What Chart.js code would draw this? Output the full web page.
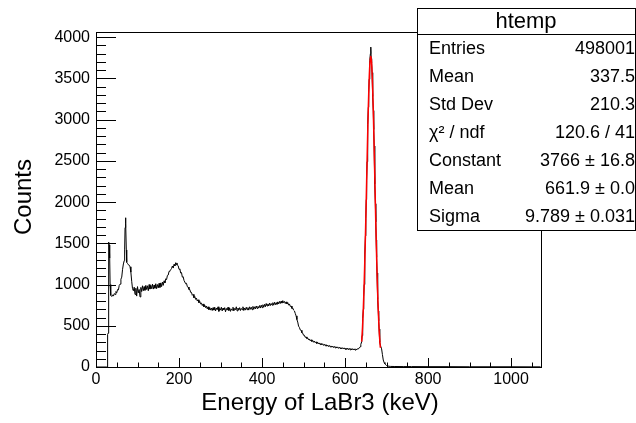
<!DOCTYPE html>
<html>
<head>
<meta charset="utf-8">
<script src="https://cdn.jsdelivr.net/npm/chart.js@4.4.0/dist/chart.umd.min.js"></script>
<style>
  html, body { margin: 0; padding: 0; background: #fff; }
  canvas { display: block; }
</style>
</head>
<body>
<canvas id="spectrum" width="636" height="423"></canvas>
<script>
// histogram (bin centre in keV, counts)
const energyKeV = [
  0, 26, 27, 28, 29, 30, 31, 32, 33, 34,
  35, 36, 38, 40, 42, 44, 46, 48, 50, 52,
  54, 56, 58, 60, 62, 64, 66, 68, 69, 70,
  71, 72, 73, 74, 76, 78, 80, 82, 84, 86,
  88, 90, 92, 94, 96, 98, 100, 102, 104, 106,
  108, 110, 112, 114, 116, 118, 120, 122, 124, 126,
  128, 130, 132, 134, 136, 138, 140, 142, 144, 146,
  148, 150, 152, 154, 156, 158, 160, 162, 164, 166,
  168, 170, 172, 174, 176, 178, 180, 182, 184, 186,
  188, 190, 192, 194, 195, 196, 198, 200, 202, 204,
  206, 208, 210, 212, 214, 216, 218, 220, 222, 224,
  226, 228, 230, 232, 234, 236, 238, 240, 242, 244,
  246, 248, 250, 252, 254, 256, 258, 260, 262, 264,
  266, 268, 270, 272, 274, 276, 278, 280, 282, 284,
  286, 288, 290, 292, 294, 296, 298, 300, 302, 304,
  306, 308, 310, 312, 314, 316, 318, 320, 322, 324,
  326, 328, 330, 332, 334, 336, 338, 340, 342, 344,
  346, 348, 350, 352, 354, 356, 358, 360, 362, 364,
  366, 368, 370, 372, 374, 376, 378, 380, 382, 384,
  386, 388, 390, 392, 394, 396, 398, 400, 402, 404,
  406, 408, 410, 412, 414, 416, 418, 420, 422, 424,
  426, 428, 430, 432, 434, 436, 438, 440, 442, 444,
  446, 448, 450, 452, 454, 456, 458, 460, 462, 464,
  466, 468, 470, 472, 474, 476, 478, 480, 482, 484,
  486, 488, 490, 492, 494, 496, 498, 500, 502, 504,
  506, 508, 510, 512, 514, 516, 518, 520, 522, 524,
  526, 528, 530, 532, 534, 536, 538, 540, 542, 544,
  546, 548, 550, 552, 554, 556, 558, 560, 562, 564,
  566, 568, 570, 572, 574, 576, 578, 580, 582, 584,
  586, 588, 590, 592, 594, 596, 598, 600, 602, 604,
  606, 608, 610, 612, 614, 616, 618, 620, 622, 624,
  626, 628, 630, 632, 634, 636, 638, 640, 641, 642,
  643, 644, 645, 646, 647, 648, 649, 650, 651, 652,
  653, 654, 655, 656, 657, 658, 659, 660, 661, 662,
  663, 664, 665, 666, 667, 668, 669, 670, 671, 672,
  673, 674, 675, 676, 677, 678, 679, 680, 681, 682,
  683, 684, 686, 688, 690, 692, 694, 696, 698, 700,
  703, 706, 710, 720, 740, 760, 800, 850, 900, 950,
  1000, 1050, 1071
];
const counts = [
  0, 0, 0, 395, 410, 1490, 1515, 1480, 1320, 1000,
  890, 870, 855, 875, 860, 890, 880, 915, 900, 940,
  935, 990, 1005, 1065, 1090, 1185, 1250, 1290, 1420, 1690,
  1810, 1740, 1420, 1270, 1255, 1240, 1235, 1215, 1150, 1040,
  950, 925, 968, 880, 955, 860, 975, 900, 940, 850,
  965, 915, 985, 925, 975, 930, 990, 940, 985, 925,
  1000, 945, 990, 950, 1005, 945, 995, 955, 1010, 950,
  1000, 960, 1015, 965, 1020, 975, 1030, 990, 1045, 1020,
  1070, 1060, 1110, 1115, 1160, 1165, 1180, 1195, 1225, 1200,
  1245, 1225, 1265, 1240, 1262, 1235, 1228, 1185, 1190, 1140,
  1145, 1090, 1095, 1050, 1050, 1010, 1015, 975, 970, 940,
  940, 905, 905, 870, 880, 840, 855, 820, 835, 800,
  815, 780, 795, 765, 775, 745, 765, 730, 750, 720,
  740, 705, 730, 695, 720, 690, 715, 685, 720, 690,
  725, 680, 715, 695, 730, 675, 710, 690, 725, 680,
  715, 695, 720, 670, 710, 690, 725, 685, 715, 675,
  705, 690, 725, 680, 710, 695, 730, 680, 715, 690,
  720, 685, 710, 695, 730, 685, 715, 690, 725, 695,
  720, 690, 730, 700, 725, 695, 735, 700, 730, 705,
  740, 710, 735, 715, 745, 715, 750, 720, 755, 725,
  760, 730, 770, 740, 765, 740, 775, 745, 770, 750,
  780, 750, 785, 755, 780, 760, 790, 765, 795, 770,
  800, 775, 805, 780, 795, 770, 790, 765, 780, 750,
  765, 735, 740, 710, 715, 690, 680, 650, 620, 575,
  545, 495, 480, 450, 445, 415, 410, 385, 385, 360,
  365, 345, 352, 330, 340, 318, 330, 310, 322, 300,
  315, 295, 305, 285, 300, 280, 292, 272, 288, 268,
  282, 262, 276, 258, 272, 252, 266, 248, 262, 244,
  256, 240, 254, 236, 250, 232, 246, 230, 244, 226,
  240, 224, 236, 220, 234, 218, 232, 215, 230, 212,
  228, 210, 226, 208, 224, 207, 222, 206, 220, 205,
  220, 207, 222, 218, 232, 245, 275, 305, 380, 470,
  590, 700, 850, 1000, 1190, 1370, 1590, 1800, 2030, 2260,
  2490, 2720, 2940, 3150, 3320, 3490, 3610, 3720, 3800, 3880,
  3740, 3690, 3570, 3440, 3280, 3110, 2880, 2680, 2450, 2220,
  1980, 1760, 1540, 1330, 1140, 970, 820, 680, 560, 460,
  370, 300, 250, 220, 150, 85, 55, 38, 26, 18,
  12, 9, 7, 6, 5, 5, 4, 4, 3, 3,
  3, 2, 2
];

// gaussian fit curve
const fitEnergy = [640, 642, 644, 646, 648, 650, 652, 654, 656, 658, 660, 662, 664, 666, 668, 670, 672, 674, 676, 678, 680, 682, 684, 685];
const fitCounts = [308, 477, 708, 1007, 1374, 1799, 2258, 2719, 3140, 3479, 3696, 3766, 3680, 3450, 3101, 2674, 2212, 1754, 1335, 974, 682, 458, 294, 233];

const xTickValues = [0, 200, 400, 600, 800, 1000];
const yTickValues = [0, 500, 1000, 1500, 2000, 2500, 3000, 3500, 4000];

const statsTitle = "htemp";
const statLabels = ["Entries", "Mean", "Std Dev", "χ² / ndf", "Constant", "Mean", "Sigma"];
const statValues = ["498001", "337.5", "210.3", "120.6 / 41", "3766 ± 16.8", "661.9 ± 0.0", "9.789 ± 0.031"];

const FONT = "'Liberation Sans', Arial, Helvetica, sans-serif";

// ROOT style frame: inward ticks, axis titles and the stats box
const rootFrame = {
  id: "rootFrame",
  afterDatasetsDraw(chart) {
    const { ctx, chartArea: a, scales } = chart;
    const x = scales.x;
    const y = scales.y;
    ctx.save();
    ctx.strokeStyle = "#000";
    ctx.lineWidth = 1;

    ctx.strokeRect(a.left + 0.5, a.top + 0.5, a.right - a.left, a.bottom - a.top);

    ctx.beginPath();
    for (let v = 0; v <= y.max; v += 100) {
      const py = Math.round(y.getPixelForValue(v)) + 0.5;
      const len = v % 500 === 0 ? 20 : 10;
      ctx.moveTo(a.left, py);
      ctx.lineTo(a.left + len, py);
    }
    for (let v = 0; v <= x.max; v += 50) {
      const px = Math.round(x.getPixelForValue(v)) + 0.5;
      const len = v % 200 === 0 ? 9 : 4.5;
      ctx.moveTo(px, a.bottom);
      ctx.lineTo(px, a.bottom - len);
    }
    ctx.stroke();

    // axis titles
    ctx.fillStyle = "#000";
    ctx.font = "24px " + FONT;
    ctx.textAlign = "center";
    ctx.textBaseline = "alphabetic";
    ctx.fillText("Energy of LaBr3 (keV)", 320, 410);
    ctx.save();
    ctx.translate(31, 197);
    ctx.rotate(-Math.PI / 2);
    ctx.fillText("Counts", 0, 0);
    ctx.restore();

    // stats box
    const bx = 417, by = 8, bw = 218, titleH = 26, rowH = 28;
    const bh = titleH + rowH * statLabels.length;
    ctx.fillStyle = "#fff";
    ctx.fillRect(bx, by, bw, bh);
    ctx.strokeRect(bx + 0.5, by + 0.5, bw, bh);
    ctx.beginPath();
    ctx.moveTo(bx, by + titleH + 0.5);
    ctx.lineTo(bx + bw, by + titleH + 0.5);
    ctx.stroke();

    ctx.fillStyle = "#000";
    ctx.textBaseline = "middle";
    ctx.textAlign = "center";
    ctx.font = "22px " + FONT;
    ctx.fillText(statsTitle, bx + bw / 2, by + titleH / 2 + 1);
    ctx.font = "18px " + FONT;
    statLabels.forEach((label, i) => {
      const cy = by + titleH + rowH * i + rowH / 2 + 1;
      ctx.textAlign = "left";
      ctx.fillText(label, 429, cy);
      ctx.textAlign = "right";
      ctx.fillText(statValues[i], 635, cy);
    });
    ctx.restore();
  }
};

new Chart(document.getElementById("spectrum").getContext("2d"), {
  type: "line",
  data: {
    datasets: [
      {
        label: "fit",
        data: fitEnergy.map((e, i) => ({ x: e, y: fitCounts[i] })),
        borderColor: "#ff0000",
        borderWidth: 1.5,
        pointRadius: 0,
        tension: 0.2,
        fill: false,
        order: 0,
      },
      {
        label: "htemp",
        data: energyKeV.map((e, i) => ({ x: e, y: counts[i] })),
        borderColor: "#000000",
        borderWidth: 1,
        pointRadius: 0,
        tension: 0,
        fill: false,
        order: 1,
      },
    ],
  },
  options: {
    responsive: false,
    animation: false,
    layout: { padding: { left: 0, top: 32, right: 95, bottom: 0 } },
    scales: {
      x: {
        type: "linear",
        min: 0,
        max: 1072,
        grid: { display: false, drawTicks: false },
        border: { display: false },
        afterFit: (scale) => { scale.height = 56; },
        afterBuildTicks: (scale) => { scale.ticks = xTickValues.map((v) => ({ value: v })); },
        ticks: {
          autoSkip: false,
          maxRotation: 0,
          padding: 3,
          color: "#000",
          font: { family: FONT, size: 16 },
          callback: (value) => String(value),
        },
      },
      y: {
        type: "linear",
        min: 0,
        max: 4063,
        grid: { display: false, drawTicks: false },
        border: { display: false },
        afterFit: (scale) => { scale.width = 96; },
        afterBuildTicks: (scale) => { scale.ticks = yTickValues.map((v) => ({ value: v })); },
        ticks: {
          autoSkip: false,
          padding: 6,
          color: "#000",
          font: { family: FONT, size: 16 },
          callback: (value) => String(value),
        },
      },
    },
    plugins: {
      legend: { display: false },
      tooltip: { enabled: false },
    },
  },
  plugins: [rootFrame],
});
</script>
</body>
</html>
